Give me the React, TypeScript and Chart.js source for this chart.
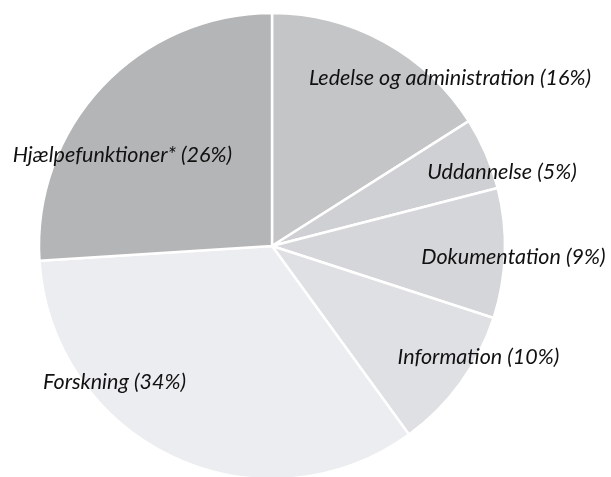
import React, { useEffect, useRef } from "react";
import { Chart, registerables } from "chart.js";

Chart.register(...registerables);

const categories = [
  "Ledelse og administration",
  "Uddannelse",
  "Dokumentation",
  "Information",
  "Forskning",
  "Hjælpefunktioner*",
];
const shares = [16, 5, 9, 10, 34, 26];
const sliceColors = ["#c4c5c7", "#cfd0d3", "#d5d6d9", "#dfe0e3", "#ecedf0", "#b4b5b7"];
// label anchor offsets as fractions of the radius, relative to the pie centre
const labelOffsets = [
  [0.764, -0.721],
  [0.987, -0.318],
  [1.036, 0.047],
  [0.886, 0.476],
  [-0.676, 0.584],
  [-0.642, -0.391],
];

const labelPlugin = {
  id: "sliceLabels",
  afterDatasetsDraw(chart: any) {
    const meta = chart.getDatasetMeta(0);
    const ctx = chart.ctx;
    ctx.save();
    ctx.font = "italic 21.5px Lato, 'Open Sans', sans-serif";
    ctx.fillStyle = "#111";
    ctx.textAlign = "center";
    ctx.textBaseline = "middle";
    meta.data.forEach((arc: any, i: number) => {
      const { x, y, outerRadius } = arc.getProps(["x", "y", "outerRadius"], true);
      const [fx, fy] = labelOffsets[i];
      const text = `${categories[i]} (${shares[i]}%)`;
      ctx.fillText(text, x + fx * outerRadius, y + fy * outerRadius);
    });
    ctx.restore();
  },
};

export default function App() {
  const ref = useRef<HTMLCanvasElement>(null);
  useEffect(() => {
    if (!ref.current) return;
    const chart = new Chart(ref.current, {
      type: "pie",
      data: {
        labels: categories,
        datasets: [
          {
            data: shares,
            backgroundColor: sliceColors,
            borderColor: "#ffffff",
            borderWidth: 2.5,
            radius: 233,
          } as any,
        ],
      },
      options: {
        responsive: false,
        animation: false,
        layout: { padding: { left: 0, right: 67, top: 15, bottom: 0 } },
        plugins: {
          legend: { display: false },
          tooltip: { enabled: false },
        },
      },
      plugins: [labelPlugin],
    });
    return () => chart.destroy();
  }, []);
  return (
    <div style={{ position: "absolute", left: 0, top: 0, width: 611, height: 477, background: "#fff" }}>
      <canvas ref={ref} width={611} height={477} style={{ display: "block" }} />
    </div>
  );
}
